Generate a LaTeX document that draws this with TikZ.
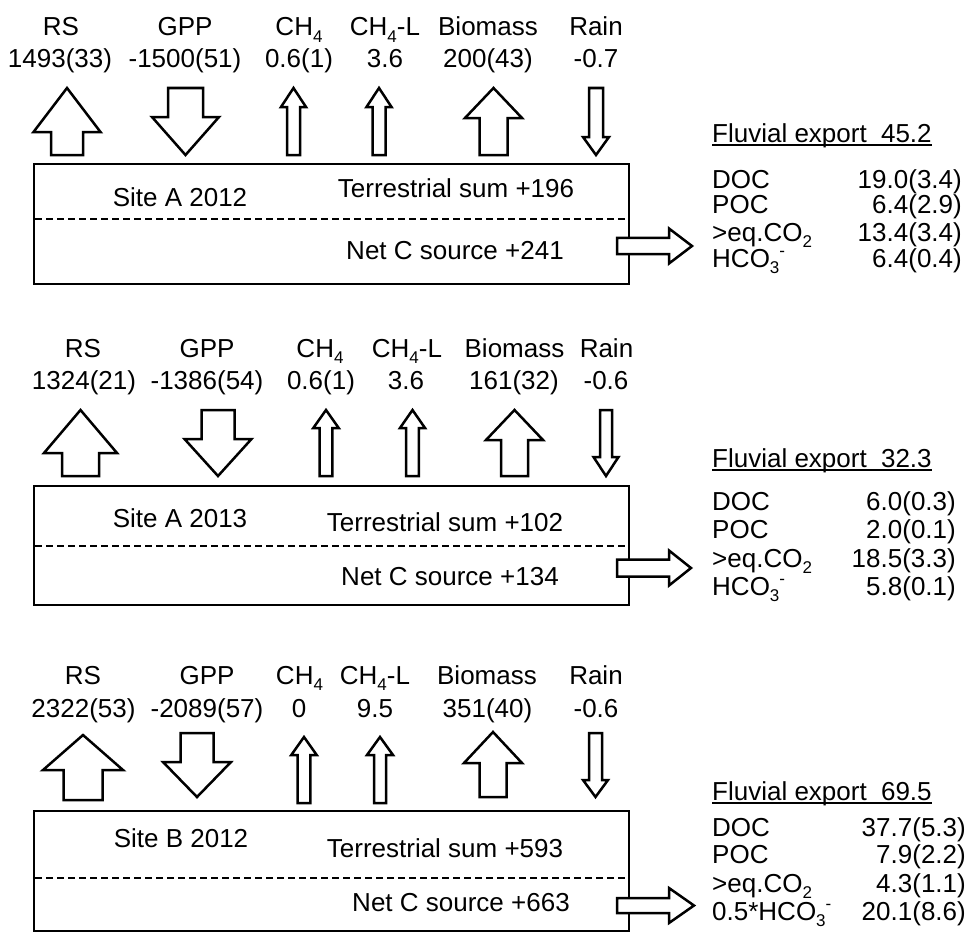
\documentclass[tikz,border=0pt]{standalone}
\usepackage{fontspec}
\setmainfont{Liberation Sans}
\newcommand{\dn}[1]{\smash{\raisebox{-0.26em}{\fontsize{17}{17}\selectfont #1}}}
\newcommand{\upx}[1]{\smash{\raisebox{0.42em}{\fontsize{17}{17}\selectfont #1}}}
\newcommand{\upflux}[6]{% cx, top, headbase, bottom, headhalf, shafthalf
  \draw[flux] (#1,#2) -- (#1+#5,#3) -- (#1+#6,#3) -- (#1+#6,#4) -- (#1-#6,#4) -- (#1-#6,#3) -- (#1-#5,#3) -- cycle;}
\newcommand{\dnflux}[6]{% cx, top, headbase, tip, headhalf, shafthalf
  \draw[flux] (#1-#6,#2) -- (#1+#6,#2) -- (#1+#6,#3) -- (#1+#5,#3) -- (#1,#4) -- (#1-#5,#3) -- (#1-#6,#3) -- cycle;}
\newcommand{\rtflux}[6]{% xleft, headbase, tip, cy, headhalf, shafthalf
  \draw[flux] (#1,#4-#6) -- (#2,#4-#6) -- (#2,#4-#5) -- (#3,#4) -- (#2,#4+#5) -- (#2,#4+#6) -- (#1,#4+#6) -- cycle;}
\begin{document}
\begin{tikzpicture}[x=1pt,y=-1pt,
  flux/.style={draw=black, line width=2.5pt, fill=white, line join=miter},
  site/.style={draw=black, line width=2.8pt},
  sepline/.style={line width=1.4pt, dash pattern=on 7pt off 4pt},
  txt/.style={inner sep=0pt, font=\fontsize{26}{30}\selectfont},
  ctr/.style={txt, anchor=base},
  lft/.style={txt, anchor=base west},
  rgt/.style={txt, anchor=base east},
  ul/.style={line width=1.5pt}]
\useasboundingbox (0,0) rectangle (972,934);

% ================= Panel 1 =================
\node[ctr] (a1) at (61,36) {RS};
\node[ctr] (a2) at (185,36) {GPP};
\node[ctr] (a3) at (299,36) {CH\dn{4}};
\node[ctr] (a4) at (385,36) {CH\dn{4}-L};
\node[ctr] (a5) at (488,36) {Biomass};
\node[ctr] (a6) at (596,36) {Rain};
\node[ctr] (av1) at (60,67) {1493(33)};
\node[ctr] (av2) at (185,67) {-1500(51)};
\node[ctr] (av3) at (299,67) {0.6(1)};
\node[ctr] (av4) at (385,67) {3.6};
\node[ctr] (av5) at (488,67) {200(43)};
\node[ctr] (av6) at (596,67) {-0.7};
\upflux{67}{88}{132}{155}{33.5}{16}
\dnflux{185.5}{88}{117}{155}{33.5}{17.5}
\upflux{293.5}{88}{107}{155}{12.5}{6.5}
\upflux{379}{88}{107}{155}{12.5}{6.5}
\upflux{493.5}{88}{118}{155}{28.5}{14}
\dnflux{596}{88}{137}{155}{13}{7}
\draw[site] (34,164) rectangle (629,284);
\draw[sepline] (35,219) -- (628,219);
\node[ctr] (as) at (180,206) {Site A 2012};
\node[ctr] (at) at (456,197) {Terrestrial sum +196};
\node[ctr] (an) at (455,259) {Net C source +241};
\rtflux{617}{669}{692}{246}{17.5}{8.2}
\node[lft] (af) at (712,142) {Fluvial export\hspace{0.55em}45.2};
\draw[ul] ([yshift=-3pt]af.base west) -- ([yshift=-3pt]af.base east);
\node[lft] (ad) at (712,188) {DOC};
\node[lft] (ap) at (712,213) {POC};
\node[lft] (ae) at (712,241) {>eq.CO\dn{2}};
\node[lft] (ah) at (712,267) {HCO\dn{3}\upx{-}};
\node[rgt] (adv) at (962,188) {19.0(3.4)};
\node[rgt] (apv) at (962,213) {6.4(2.9)};
\node[rgt] (aev) at (962,241) {13.4(3.4)};
\node[rgt] (ahv) at (962,267) {6.4(0.4)};

% ================= Panel 2 =================
\node[ctr] (b1) at (83,357) {RS};
\node[ctr] (b2) at (207,357) {GPP};
\node[ctr] (b3) at (320,357) {CH\dn{4}};
\node[ctr] (b4) at (407,357) {CH\dn{4}-L};
\node[ctr] (b5) at (514.5,357) {Biomass};
\node[ctr] (b6) at (606.5,357) {Rain};
\node[ctr] (bv1) at (84,389) {1324(21)};
\node[ctr] (bv2) at (207,389) {-1386(54)};
\node[ctr] (bv3) at (321,389) {0.6(1)};
\node[ctr] (bv4) at (406,389) {3.6};
\node[ctr] (bv5) at (514,389) {161(32)};
\node[ctr] (bv6) at (606,389) {-0.6};
\upflux{80.5}{410}{453}{476}{36.5}{18.5}
\dnflux{218}{410}{439}{476}{33.5}{16.5}
\upflux{326}{410}{428}{476}{12.7}{6.3}
\upflux{412.5}{410}{428}{476}{12.5}{6.3}
\upflux{514.5}{410}{440}{476}{28.5}{13.5}
\dnflux{606}{410}{457}{476}{12.5}{6}
\draw[site] (34,486) rectangle (629,605);
\draw[sepline] (35,546) -- (628,546);
\node[ctr] (bs) at (180,527) {Site A 2013};
\node[ctr] (bt) at (445,531) {Terrestrial sum +102};
\node[ctr] (bn) at (450,585) {Net C source +134};
\rtflux{617}{669}{691}{568}{17.5}{8.5}
\node[lft] (bf) at (712,467) {Fluvial export\hspace{0.55em}32.3};
\draw[ul] ([yshift=-3pt]bf.base west) -- ([yshift=-3pt]bf.base east);
\node[lft] (bd) at (712,510) {DOC};
\node[lft] (bp) at (712,538) {POC};
\node[lft] (be) at (712,567) {>eq.CO\dn{2}};
\node[lft] (bh) at (712,595) {HCO\dn{3}\upx{-}};
\node[rgt] (bdv) at (956,510) {6.0(0.3)};
\node[rgt] (bpv) at (956,538) {2.0(0.1)};
\node[rgt] (bev) at (956,567) {18.5(3.3)};
\node[rgt] (bhv) at (956,595) {5.8(0.1)};

% ================= Panel 3 =================
\node[ctr] (c1) at (83,684) {RS};
\node[ctr] (c2) at (207,684) {GPP};
\node[ctr] (c3) at (299.5,684) {CH\dn{4}};
\node[ctr] (c4) at (375,684) {CH\dn{4}-L};
\node[ctr] (c5) at (487,684) {Biomass};
\node[ctr] (c6) at (596,684) {Rain};
\node[ctr] (cv1) at (83.5,717) {2322(53)};
\node[ctr] (cv2) at (207,717) {-2089(57)};
\node[ctr] (cv3) at (299,717) {0};
\node[ctr] (cv4) at (375,717) {9.5};
\node[ctr] (cv5) at (487.5,717) {351(40)};
\node[ctr] (cv6) at (596,717) {-0.6};
\upflux{83}{735}{770}{800}{40}{19.5}
\dnflux{197}{733}{762}{797}{34}{16.5}
\upflux{304}{737}{755}{803}{12.7}{6.3}
\upflux{380}{737}{755}{803}{13}{6}
\upflux{493}{732}{763}{797}{29}{13.5}
\dnflux{595.5}{733}{780}{797}{12.5}{6.5}
\draw[site] (34,811) rectangle (629,931);
\draw[sepline] (35,878) -- (628,878);
\node[ctr] (cs) at (181,847) {Site B 2012};
\node[ctr] (ct) at (445,857) {Terrestrial sum +593};
\node[ctr] (cn) at (461,911) {Net C source +663};
\rtflux{617}{669}{694}{905.5}{17.5}{7.5}
\node[lft] (cf) at (712,800) {Fluvial export\hspace{0.55em}69.5};
\draw[ul] ([yshift=-3pt]cf.base west) -- ([yshift=-3pt]cf.base east);
\node[lft] (cd) at (712,836) {DOC};
\node[lft] (cp) at (712,863) {POC};
\node[lft] (ce) at (712,892) {>eq.CO\dn{2}};
\node[lft] (ch) at (712,920) {0.5*HCO\dn{3}\upx{-}};
\node[rgt] (cdv) at (966,836) {37.7(5.3)};
\node[rgt] (cpv) at (966,863) {7.9(2.2)};
\node[rgt] (cev) at (966,892) {4.3(1.1)};
\node[rgt] (chv) at (966,920) {20.1(8.6)};
\end{tikzpicture}
\end{document}
